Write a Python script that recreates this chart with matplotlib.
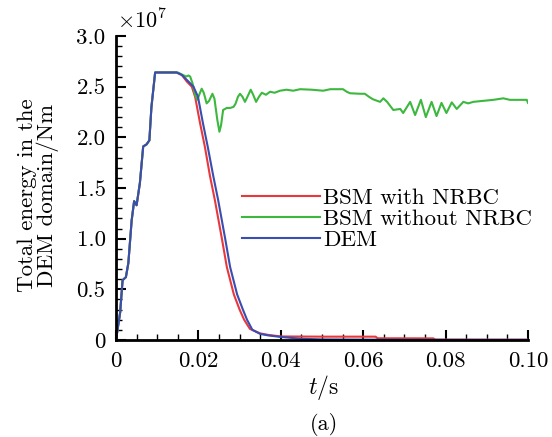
import matplotlib
matplotlib.use("Agg")
import matplotlib.pyplot as plt
from matplotlib.ticker import MultipleLocator, FixedLocator

plt.rcParams['font.family'] = ['cmr10', 'DejaVu Serif']
plt.rcParams['mathtext.fontset'] = 'cm'
plt.rcParams['axes.unicode_minus'] = False

# DEM curve
t_dem = [0, 0.001, 0.0016, 0.0024, 0.003, 0.0038, 0.0044, 0.005, 0.0058, 0.0066,
         0.0074, 0.0081, 0.0086, 0.0095, 0.0147, 0.016, 0.0176, 0.0188, 0.0199, 0.0211,
         0.0223, 0.0236, 0.0248, 0.0265, 0.0277, 0.0294, 0.0308, 0.0318, 0.0331, 0.035,
         0.037, 0.04, 0.045, 0.05, 0.06, 0.07, 0.08, 0.09, 0.1]
e_dem = [0, 0.27, 0.59, 0.62, 0.76, 1.18, 1.37, 1.33, 1.55, 1.91,
         1.93, 1.97, 2.30, 2.64, 2.64, 2.615, 2.55, 2.50, 2.40, 2.14,
         1.90, 1.62, 1.38, 1.00, 0.72, 0.45, 0.30, 0.20, 0.10, 0.06,
         0.045, 0.03, 0.012, 0.006, 0.004, 0.003, 0.002, 0.002, 0.002]

# BSM with NRBC
t_red = [0, 0.001, 0.0016, 0.0024, 0.003, 0.0038, 0.0044, 0.005, 0.0058, 0.0066,
         0.0074, 0.0081, 0.0086, 0.0095, 0.0147, 0.016, 0.0172, 0.0184, 0.0192, 0.0204,
         0.0216, 0.0228, 0.024, 0.0257, 0.0269, 0.0286, 0.030, 0.0311, 0.0325, 0.035,
         0.037, 0.040, 0.050, 0.063, 0.0635, 0.077, 0.0775, 0.09, 0.1]
e_red = [0, 0.27, 0.59, 0.62, 0.76, 1.18, 1.37, 1.33, 1.55, 1.91,
         1.93, 1.97, 2.30, 2.64, 2.64, 2.615, 2.55, 2.50, 2.40, 2.14,
         1.90, 1.62, 1.38, 1.00, 0.72, 0.45, 0.30, 0.20, 0.11, 0.065,
         0.05, 0.035, 0.033, 0.033, 0.017, 0.016, 0.004, 0.003, 0.003]

# BSM without NRBC
t_grn = [0, 0.001, 0.0016, 0.0024, 0.003, 0.0038, 0.0044, 0.005, 0.0058, 0.0066,
         0.0074, 0.0081, 0.0086, 0.0095, 0.015, 0.016, 0.017, 0.0176, 0.018, 0.0186,
         0.0192, 0.0197, 0.0202, 0.0208, 0.0213, 0.022, 0.0226, 0.0234, 0.0239, 0.0246,
         0.0251, 0.0255, 0.026, 0.0269, 0.0277, 0.0285, 0.029, 0.0296, 0.0301, 0.0307,
         0.0313, 0.0319, 0.0327, 0.0333, 0.034, 0.0347, 0.0354, 0.0364, 0.0374, 0.0385,
         0.0398, 0.0414, 0.043, 0.0447, 0.0475, 0.0503, 0.052, 0.0551, 0.056, 0.0568,
         0.0592, 0.0604, 0.0614, 0.0624, 0.0641, 0.0649, 0.0658, 0.0673, 0.069, 0.0697,
         0.0714, 0.0726, 0.074, 0.0752, 0.0766, 0.0778, 0.079, 0.0802, 0.0815, 0.0827,
         0.0843, 0.0855, 0.0867, 0.0891, 0.0916, 0.094, 0.0956, 0.0997, 0.1]
e_grn = [0, 0.27, 0.59, 0.62, 0.76, 1.18, 1.37, 1.33, 1.55, 1.91,
         1.93, 1.97, 2.30, 2.64, 2.64, 2.62, 2.60, 2.61, 2.60, 2.53,
         2.42, 2.37, 2.42, 2.48, 2.44, 2.335, 2.36, 2.43, 2.38, 2.17,
         2.055, 2.12, 2.27, 2.29, 2.29, 2.30, 2.33, 2.40, 2.43, 2.40,
         2.35, 2.40, 2.47, 2.42, 2.35, 2.40, 2.44, 2.42, 2.45, 2.44,
         2.46, 2.47, 2.46, 2.475, 2.47, 2.46, 2.475, 2.475, 2.45, 2.435,
         2.43, 2.43, 2.40, 2.375, 2.35, 2.385, 2.35, 2.27, 2.28, 2.24,
         2.35, 2.22, 2.37, 2.20, 2.35, 2.21, 2.34, 2.24, 2.345, 2.28,
         2.35, 2.335, 2.35, 2.36, 2.37, 2.385, 2.37, 2.37, 2.34]

legend_labels = ["BSM with NRBC", "BSM without NRBC", "DEM"]
colors = ["#e8383c", "#3db83f", "#3a4db0"]
xticks = [0, 0.02, 0.04, 0.06, 0.08, 0.10]
xticklabels = ["0", "0.02", "0.04", "0.06", "0.08", "0.10"]
yticks = [0, 0.5, 1.0, 1.5, 2.0, 2.5, 3.0]
yticklabels = ["0", "0.5", "1.0", "1.5", "2.0", "2.5", "3.0"]

W, H = 552, 437
fig = plt.figure(figsize=(W/100, H/100), dpi=100)
ax = fig.add_axes([116/W, 1-340/H, (528-116)/W, (340-36)/H])

l1, = ax.plot(t_red, e_red, color=colors[0], lw=1.5, label=legend_labels[0])
l2, = ax.plot(t_grn, e_grn, color=colors[1], lw=1.5, label=legend_labels[1])
l3, = ax.plot(t_dem, e_dem, color=colors[2], lw=1.5, label=legend_labels[2])

ax.set_xlim(0, 0.1)
ax.set_ylim(0, 3.0)
ax.spines['top'].set_visible(False)
ax.spines['right'].set_visible(False)
ax.spines['left'].set_linewidth(2.0)
ax.spines['bottom'].set_linewidth(2.0)

ax.xaxis.set_major_locator(FixedLocator(xticks))
ax.set_xticklabels(xticklabels)
ax.yaxis.set_major_locator(FixedLocator(yticks))
ax.set_yticklabels(yticklabels)
ax.xaxis.set_minor_locator(MultipleLocator(0.005))
ax.yaxis.set_minor_locator(MultipleLocator(0.1))
ax.tick_params(which='major', direction='in', length=7, width=1.5, labelsize=16.5)
ax.tick_params(axis='x', which='major', pad=8)
ax.tick_params(axis='y', which='major', pad=7.5)
ax.tick_params(which='minor', direction='in', length=4, width=1.0)

fig.text(323/W, 1-387/H, r'$t$/s', fontsize=17, ha='center', va='center')
fig.text(38/W, 1-195/H, "Total energy in the\nDEM domain/Nm", fontsize=16.5,
         rotation=90, ha='center', va='center', multialignment='center', linespacing=0.95)
fig.text(117/W, 1-20/H, r'$\times10^{7}$', fontsize=16, ha='left', va='center')
fig.text(324/W, 1-425/H, "(a)", fontsize=16, ha='center', va='center')

ax.legend(handles=[l1, l2, l3], loc='center left', bbox_to_anchor=(242/W, 1-219/H),
          bbox_transform=fig.transFigure, frameon=False, fontsize=16.5,
          handlelength=3.4, handletextpad=0.15, labelspacing=0.05, borderpad=0, borderaxespad=0)

fig.savefig("out.png", dpi=100)
